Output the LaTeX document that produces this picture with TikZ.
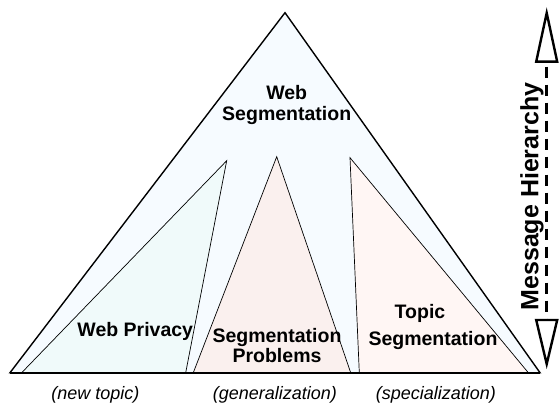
\documentclass[tikz,border=0pt]{standalone}
\usepackage{fontspec}
\setmainfont{Liberation Sans}
\usepackage{xcolor}
\definecolor{webfill}{RGB}{246,251,255}
\definecolor{privfill}{RGB}{240,250,250}
\definecolor{probfill}{RGB}{250,240,238}
\definecolor{topicfill}{RGB}{255,246,244}
\tikzset{
  outerWedge/.style={draw, fill=webfill, line width=1.4pt, line join=miter},
  innerWedge/.style={draw, line width=0.7pt, line join=miter},
  groundLine/.style={line width=2pt},
  topicText/.style={font=\bfseries\fontsize{19.5}{20.5}\selectfont, align=center, inner sep=0pt, anchor=base},
  relText/.style={font=\itshape\fontsize{18}{18}\selectfont, inner sep=0pt, anchor=base},
  levelHead/.style={draw, fill=white, line width=2.4pt, line join=miter},
  levelAxis/.style={line width=2.8pt, dash pattern=on 11pt off 7pt, dash phase=-5pt}
}
\newcommand{\DrawWedge}[4]{% #1=fill, #2,#3,#4=corners
  \filldraw[innerWedge, fill=#1] (#2) -- (#3) -- (#4) -- cycle;
}

\begin{document}
\begin{tikzpicture}[x=1pt, y=-1pt]
  \useasboundingbox (0,0) rectangle (559,403);
  % outer triangle
  \coordinate (apex) at (285,12.7);
  \coordinate (bl) at (10,372.7);
  \coordinate (br) at (540,372.7);
  \path[outerWedge] (apex) -- (bl) -- (br) -- cycle;
  % sub-topics
  \coordinate (pTop) at (226.7,160.7);
  \coordinate (pL) at (21.7,372.7);
  \coordinate (pR) at (185.7,372.7);
  \coordinate (gTop) at (276.7,156.7);
  \coordinate (gL) at (193.3,372.7);
  \coordinate (gR) at (350.7,372.7);
  \coordinate (sTop) at (350,157.7);
  \coordinate (sL) at (359.3,372.7);
  \coordinate (sR) at (528.3,372.7);
  \DrawWedge{privfill}{pTop}{pL}{pR}
  \DrawWedge{probfill}{gTop}{gL}{gR}
  \DrawWedge{topicfill}{sTop}{sL}{sR}
  \draw[groundLine] (bl) -- (br);
  % labels (base = last line)
  \node[topicText] (webSeg) at (286.7,120.5) {Web\\Segmentation};
  \node[topicText] (webPriv) at (135.3,336) {Web Privacy};
  \node[topicText, font=\bfseries\fontsize{19.5}{16.3}\selectfont] (segProb) at (277,362) {Segmentation\\Problems};
  \node[topicText] (topicSeg) at (433,345.7) {Topic\hspace*{26pt}\\[7pt]Segmentation};
  \node[relText] (newTopic) at (95.4,399) {(new topic)};
  \node[relText] (general) at (274.9,399) {(generalization)};
  \node[relText] (special) at (435.8,399) {(specialization)};
  % hierarchy axis
  \coordinate (hiTop) at (546.7,61.7);
  \coordinate (hiBot) at (546.7,320);
  \draw[levelAxis] (hiTop) -- (hiBot);
  \path[levelHead] (hiTop) ++(-10.5,0) -- (546.7,13) -- ++(10.5,48.7) -- cycle;
  \path[levelHead] (hiBot) ++(-10.5,0) -- (546.7,364) -- ++(10.5,-44) -- cycle;
  \node[rotate=90, anchor=base, inner sep=0pt, font=\bfseries\fontsize{25}{25}\selectfont] (hier) at (538.3,196.5) {Message Hierarchy};
\end{tikzpicture}
\end{document}
